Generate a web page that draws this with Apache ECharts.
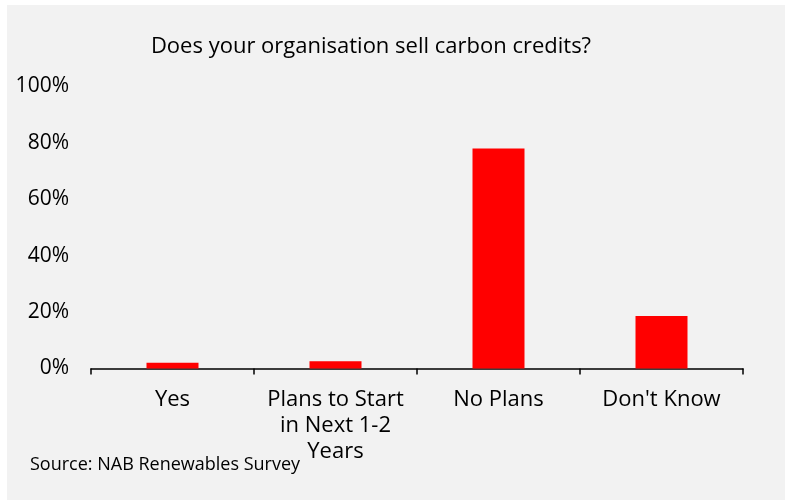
<!DOCTYPE html>
<html>
<head>
<meta charset="utf-8">
<script src="https://cdn.jsdelivr.net/npm/echarts@6/dist/echarts.min.js"></script>
<style>
  html, body { margin: 0; padding: 0; background: #ffffff; }
  #chart { width: 792px; height: 501px; }
</style>
</head>
<body>
<div id="chart"></div>
<script>
// Survey answers: share of respondents (%)
const categories = ['Yes', 'Plans to Start\nin Next 1-2\nYears', 'No Plans', "Don't Know"];
const shares = [2, 2.6, 78, 18.6];
const yTicks = { min: 0, max: 100, interval: 20 };
const titleText = 'Does your organisation sell carbon credits?';
const sourceText = 'Source: NAB Renewables Survey';

const font = '"Open Sans", "Noto Sans", sans-serif';
const chart = echarts.init(document.getElementById('chart'), null, { renderer: 'canvas' });

chart.setOption({
  backgroundColor: '#ffffff',
  animation: false,
  graphic: [
    {
      type: 'rect',
      z: -10,
      shape: { x: 7, y: 5, width: 778, height: 495 },
      style: { fill: '#f2f2f2' },
      silent: true
    },
    {
      type: 'text',
      left: 30,
      top: 456,
      style: { text: sourceText, font: '18px ' + font, fill: '#000000' }
    }
  ],
  title: {
    text: titleText,
    left: 366,
    top: 31,
    textAlign: 'center',
    textStyle: { fontFamily: font, fontSize: 22, fontWeight: 'normal', color: '#000000' }
  },
  grid: { left: 91, right: 49, top: 86.5, bottom: 132.5, containLabel: false },
  xAxis: {
    type: 'category',
    data: categories,
    axisLine: { lineStyle: { color: '#000000', width: 1.5 } },
    axisTick: { show: true, length: 6, lineStyle: { color: '#000000', width: 1.5 } },
    axisLabel: {
      fontFamily: font, fontSize: 22, color: '#000000',
      lineHeight: 26, margin: 18, interval: 0
    }
  },
  yAxis: {
    type: 'value',
    min: yTicks.min, max: yTicks.max, interval: yTicks.interval,
    axisLine: { show: false },
    axisTick: { show: false },
    splitLine: { show: false },
    axisLabel: {
      formatter: '{value}%',
      fontFamily: font, fontSize: 21, color: '#000000', margin: 22
    }
  },
  series: [{
    type: 'bar',
    data: shares,
    barWidth: 52,
    itemStyle: { color: '#ff0000' }
  }]
});
</script>
</body>
</html>
